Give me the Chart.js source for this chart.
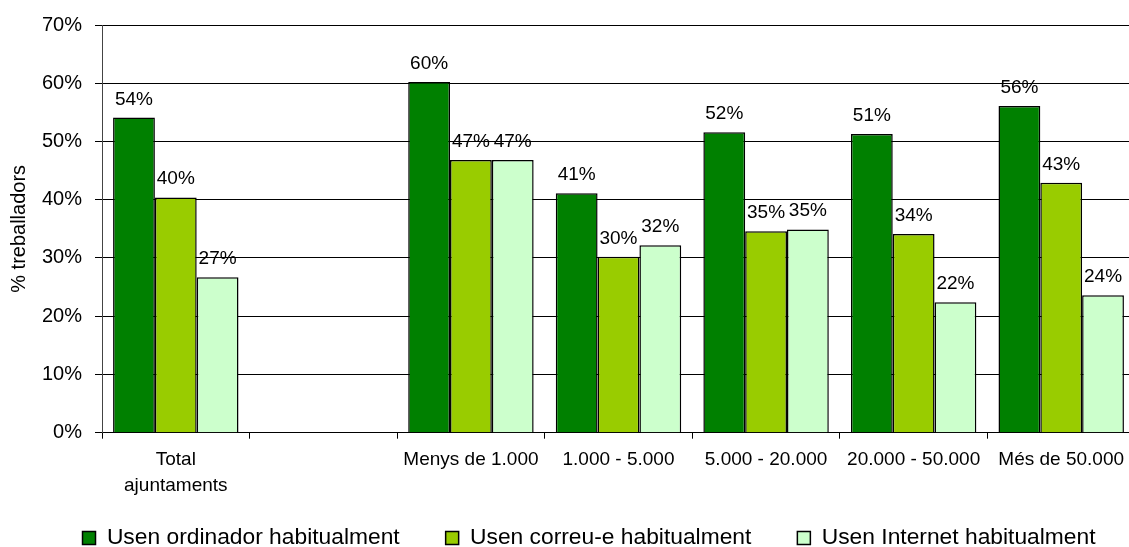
<!DOCTYPE html>
<html>
<head>
<meta charset="utf-8">
<script src="https://cdn.jsdelivr.net/npm/chart.js@4/dist/chart.umd.min.js"></script>
<style>
  html, body { margin: 0; padding: 0; background: #fff; overflow: hidden; }
  #wrap { position: relative; width: 1178px; height: 580px; }
</style>
</head>
<body>
<div id="wrap"><canvas id="chart"></canvas></div>
<script>
// categories (the empty slot keeps the gap after the total)
const categories = [['Total', 'ajuntaments'], '', 'Menys de 1.000', '1.000 - 5.000', '5.000 - 20.000', '20.000 - 50.000', 'Més de 50.000'];

// % of workers
const ordinador = [54.1, null, 60.2, 41.1, 51.6, 51.3, 56.1];
const correu = [40.4, null, 46.8, 30.2, 34.6, 34.1, 42.9];
const internet = [26.7, null, 46.8, 32.2, 34.9, 22.4, 23.6];

const seriesNames = ['Usen ordinador habitualment', 'Usen correu-e habitualment', 'Usen Internet habitualment'];
const seriesColors = ['#008000', '#99cc00', '#ccffcc'];

const yMin = 0;
const yMax = 70;
const yStep = 10;

Chart.defaults.font.family = '"Liberation Sans", Arial, sans-serif';
Chart.defaults.color = '#000';

// value labels above each bar
const barLabels = {
  id: 'barLabels',
  afterDatasetsDraw(chart) {
    const ctx = chart.ctx;
    ctx.save();
    ctx.font = '19px "Liberation Sans", Arial, sans-serif';
    ctx.fillStyle = '#000';
    ctx.textAlign = 'center';
    ctx.textBaseline = 'alphabetic';
    chart.data.datasets.forEach((ds, i) => {
      chart.getDatasetMeta(i).data.forEach((bar, j) => {
        const v = ds.data[j];
        if (v === null || v === undefined) return;
        ctx.fillText(Math.round(v) + '%', bar.x, bar.y - 13);
      });
    });
    ctx.restore();
  }
};

// the legend sits a bit closer to the axis labels than the layout allows
const liftLegend = {
  id: 'liftLegend',
  afterLayout(chart) {
    if (chart.legend) {
      chart.legend.top -= 20.6;
      chart.legend.bottom -= 20.6;
    }
  }
};

const datasets = [ordinador, correu, internet].map((values, i) => ({
  label: seriesNames[i],
  data: values,
  backgroundColor: seriesColors[i],
  borderColor: '#000',
  borderWidth: 1.5,
  categoryPercentage: 0.85,
  barPercentage: 1.0
}));

new Chart(document.getElementById('chart'), {
  type: 'bar',
  data: { labels: categories, datasets },
  plugins: [barLabels, liftLegend],
  options: {
    responsive: true,
    maintainAspectRatio: false,
    animation: false,
    layout: { padding: { top: 25, left: 0, right: 0, bottom: 0 } },
    plugins: {
      tooltip: { enabled: false },
      legend: {
        position: 'bottom',
        labels: {
          boxWidth: 13,
          boxHeight: 13,
          padding: 46,
          color: '#000',
          font: { size: 22.8 }
        }
      }
    },
    scales: {
      x: {
        grid: { display: true, drawOnChartArea: false, offset: true, tickLength: 6, color: '#000' },
        border: { display: true, color: '#000', width: 1 },
        ticks: { color: '#000', font: { size: 19, lineHeight: 1.37 }, padding: 8, maxRotation: 0, autoSkip: false },
        afterFit(scale) { scale.height = 68.5; }
      },
      y: {
        min: yMin,
        max: yMax,
        ticks: { stepSize: yStep, callback: v => v + '%', color: '#000', font: { size: 20 }, padding: 13 },
        grid: { color: '#000', tickLength: 7 },
        border: { color: '#444' },
        title: {
          display: true,
          text: '% treballadors',
          color: '#000',
          font: { size: 20 },
          padding: { top: 7, bottom: 0 }
        },
        afterFit(scale) { scale.width = 102; }
      },
      // empty axis on the right, only there to push the plot past the frame
      y2: {
        position: 'right',
        display: true,
        grid: { display: false },
        border: { display: false },
        ticks: { display: false },
        afterFit(scale) { scale.width = 43; }
      }
    }
  }
});
</script>
</body>
</html>
